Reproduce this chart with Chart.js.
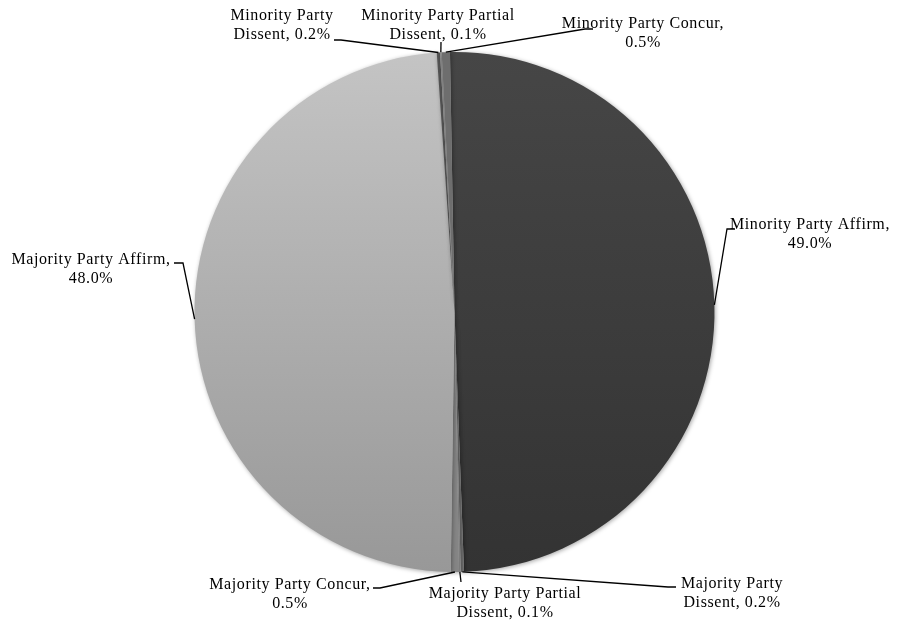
<!DOCTYPE html>
<html lang="en">
<head>
    <meta charset="UTF-8">
    <title>Party Opinion Shares</title>
    <script src="https://cdn.jsdelivr.net/npm/chart.js"></script>
    <style>
        html, body { margin: 0; padding: 0; background: #fff; }
        .chart-box { width: 899px; height: 620px; position: relative; }
    </style>
</head>
<body>
    <div class="chart-box"><canvas id="pieChart" width="899" height="620"></canvas></div>
    <script>
        // Data (clockwise from 12 o'clock)
        const categories = [
            'Minority Party Affirm',
            'Majority Party Dissent',
            'Majority Party Partial Dissent',
            'Majority Party Concur',
            'Majority Party Affirm',
            'Minority Party Dissent',
            'Minority Party Partial Dissent',
            'Minority Party Concur'
        ];
        const shares = [49.0, 0.2, 0.1, 0.5, 48.0, 0.2, 0.1, 0.5];

        // Label placement: text centre, words on first line, leader start/elbow
        const labelLayout = [
            { x: 810, y: 225, words: 3, start: [735, 229], elbow: [727, 229] },
            { x: 732, y: 584, words: 2, start: [676, 587], elbow: [668, 587] },
            { x: 505, y: 594, words: 3, start: [461, 582], elbow: null },
            { x: 290, y: 585, words: 3, start: [373, 588], elbow: [380, 588] },
            { x: 91,  y: 260, words: 3, start: [174, 263], elbow: [183, 263] },
            { x: 282, y: 16,  words: 2, start: [334, 40],  elbow: [341, 40] },
            { x: 438, y: 16,  words: 3, start: [441, 42],  elbow: null },
            { x: 643, y: 24,  words: 3, start: [593, 29],  elbow: [585, 29] }
        ];

        const sliceColors = ['dark', '#707070', '#9a9a9a', '#858585', 'light', '#555555', '#8c8c8c', '#6e6e6e'];

        function sliceFill(context) {
            const kind = sliceColors[context.dataIndex];
            const area = context.chart.chartArea;
            if (!area || (kind !== 'dark' && kind !== 'light')) return kind;
            const g = context.chart.ctx.createLinearGradient(0, area.top, 0, area.bottom);
            if (kind === 'dark') {
                g.addColorStop(0, '#464646');
                g.addColorStop(1, '#333333');
            } else {
                g.addColorStop(0, '#c4c4c4');
                g.addColorStop(1, '#989898');
            }
            return g;
        }

        const pieShadow = {
            id: 'pieShadow',
            beforeDatasetsDraw(chart) {
                const ctx = chart.ctx;
                ctx.save();
                ctx.shadowColor = 'rgba(0,0,0,0.35)';
                ctx.shadowBlur = 4;
                ctx.shadowOffsetX = 1;
                ctx.shadowOffsetY = 1;
            },
            afterDatasetsDraw(chart) {
                chart.ctx.restore();
            }
        };

        const sliceLabels = {
            id: 'sliceLabels',
            afterDraw(chart) {
                const ctx = chart.ctx;
                const arcs = chart.getDatasetMeta(0).data;
                ctx.save();
                ctx.font = '16px "Liberation Serif", "Times New Roman", serif';
                ctx.letterSpacing = '0.6px';
                ctx.fillStyle = '#000';
                ctx.textAlign = 'center';
                ctx.textBaseline = 'middle';
                ctx.strokeStyle = '#000';
                ctx.lineWidth = 1.3;
                arcs.forEach((arc, i) => {
                    const lay = labelLayout[i];
                    const text = categories[i] + ', ' + shares[i].toFixed(1) + '%';
                    const parts = text.split(' ');
                    const line1 = parts.slice(0, lay.words).join(' ');
                    const line2 = parts.slice(lay.words).join(' ');
                    ctx.fillText(line1, lay.x, lay.y);
                    ctx.fillText(line2, lay.x, lay.y + 19);

                    const p = arc.getProps(['x', 'y', 'startAngle', 'endAngle', 'outerRadius'], true);
                    const mid = (p.startAngle + p.endAngle) / 2;
                    const ax = p.x + Math.cos(mid) * p.outerRadius;
                    const ay = p.y + Math.sin(mid) * p.outerRadius;
                    ctx.beginPath();
                    ctx.moveTo(lay.start[0], lay.start[1]);
                    if (lay.elbow) ctx.lineTo(lay.elbow[0], lay.elbow[1]);
                    ctx.lineTo(ax, ay);
                    ctx.stroke();
                });
                ctx.restore();
            }
        };

        new Chart(document.getElementById('pieChart'), {
            type: 'pie',
            data: {
                labels: categories,
                datasets: [{
                    data: shares,
                    backgroundColor: sliceFill,
                    borderWidth: 0
                }]
            },
            options: {
                responsive: false,
                animation: false,
                rotation: -1,
                layout: { padding: { top: 52, bottom: 48, left: 194, right: 184 } },
                plugins: {
                    legend: { display: false },
                    tooltip: { enabled: false }
                }
            },
            plugins: [pieShadow, sliceLabels]
        });
    </script>
</body>
</html>
